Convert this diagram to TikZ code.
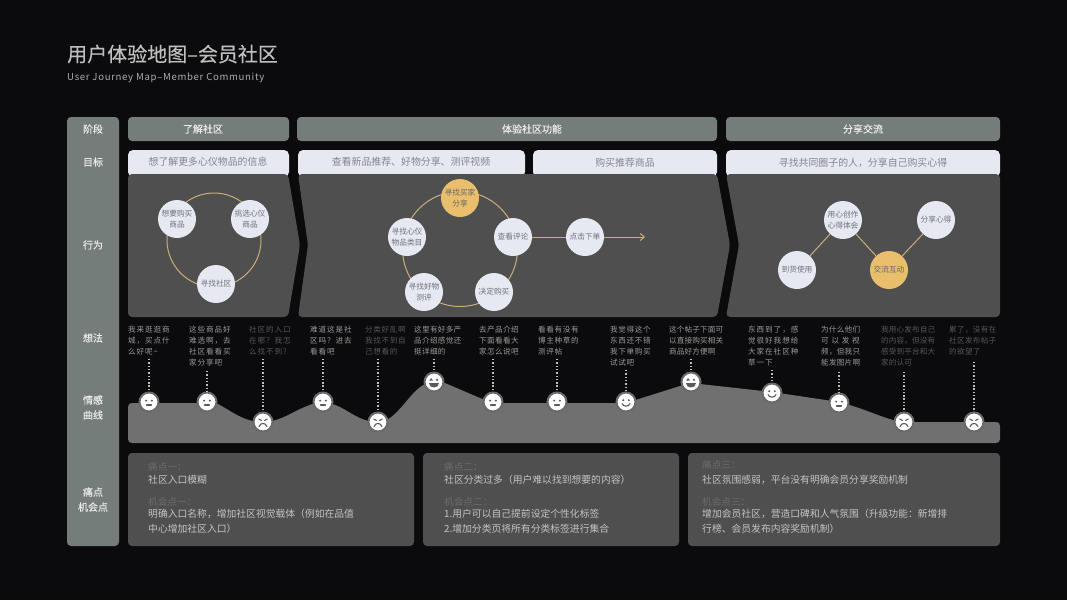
\documentclass[tikz,border=0pt]{standalone}
\usepackage{fontspec}
\usetikzlibrary{arrows.meta}
\setmainfont{Noto Sans CJK SC}
\definecolor{bgc}{HTML}{0B0B0D}
\definecolor{side}{HTML}{747D7A}
\definecolor{panel}{HTML}{4F4F4F}
\definecolor{goalc}{HTML}{E6E8F2}
\definecolor{goalt}{HTML}{85868C}
\definecolor{gold}{HTML}{E9BE6C}
\definecolor{ringc}{HTML}{C8B078}
\definecolor{areac}{HTML}{707070}
\definecolor{bright}{HTML}{9A9A9A}
\definecolor{dim}{HTML}{565656}
\definecolor{boxt}{HTML}{C4C4C4}
\definecolor{boxl}{HTML}{6C6C6C}
\definecolor{facer}{HTML}{6A6A6A}
\definecolor{facei}{HTML}{5A5A5A}
\tikzset{
  sidelabel/.style={inner sep=0pt,align=center,text=white!92!black,font=\fontsize{10}{15}\selectfont\addfontfeature{FakeBold=0.3}},
  stagebox/.style={fill=side,rounded corners=4pt,draw=none},
  stagetext/.style={inner sep=0pt,text=white!92!black,font=\fontsize{10}{12}\selectfont\addfontfeature{FakeBold=0.3}},
  goalbox/.style={fill=goalc,rounded corners=5pt,draw=none},
  goaltext/.style={inner sep=0pt,text=goalt,font=\fontsize{9.9}{12}\selectfont},
  panelshape/.style={fill=panel,rounded corners=4pt,draw=none},
  act/.style={circle,fill=goalc,draw=none,minimum size=38pt,inner sep=0pt,align=center,text=goalt!85!black,font=\fontsize{7.7}{11}\selectfont},
  actgold/.style={act,fill=gold,text=black!60},
  link/.style={draw=ringc,line width=1pt},
  facen/.style={circle,fill=white,draw=facer,line width=2pt,minimum size=19pt,inner sep=0pt},
  dots/.style={draw=white!75!black,line width=1.2pt,dash pattern=on 1.4pt off 1.9pt},
  boxhead/.style={inner sep=0pt,anchor=west,text=boxl,font=\fontsize{9.6}{12}\selectfont},
  boxbody/.style={inner sep=0pt,anchor=west,text=boxt,font=\fontsize{9.8}{12}\selectfont},
  faceline/.style={draw=facei,line width=1.1pt,line cap=round},
}
\newcommand{\tht}[5]{\node[inner sep=0pt,anchor=north west,align=left,text=#4,font={\fontsize{7.6}{11}\selectfont\addfontfeature{LetterSpace=#3}}] (#1) at (#2,325.5) {#5};}
\newcommand{\fneutral}{\fill[facei] (-2.8,-1.4) circle (1.1pt) (2.8,-1.4) circle (1.1pt); \draw[faceline] (-2.4,3) -- (2.4,3);}
\newcommand{\fsmile}{\fill[facei] (-2.8,-1.8) circle (1.1pt) (2.8,-1.8) circle (1.1pt); \draw[faceline] (-4,1.6) .. controls (-2.5,5) and (2.5,5) .. (4,1.6);}
\newcommand{\flaugh}{\draw[faceline] (-4,-1.6) -- (-3,-3) -- (-1.8,-1.6); \fill[facei] (3,-2.2) circle (1.2pt); \fill[facei] (-5,0.6) -- (5,0.6) .. controls (5,7) and (-5,7) .. (-5,0.6) -- cycle;}
\newcommand{\fsad}{\draw[faceline] (-4.2,-3) -- (-1.6,-1.6); \draw[faceline] (4.2,-3) -- (1.6,-1.6); \draw[faceline] (-4,4.6) .. controls (-2.5,0.4) and (2.5,0.4) .. (4,4.6);}
\newcommand{\fc}[5]{\coordinate (d#1) at (#2,#5); \node[facen] (f#1) at (#2,#3) {}; \draw[dots] (d#1) -- (f#1); \begin{scope}[shift={(f#1.center)}]#4\end{scope}}
\begin{document}
\begin{tikzpicture}[x=1pt,y=-1pt]
\useasboundingbox (0,0) rectangle (1067,600);
\fill[bgc] (0,0) rectangle (1067,600);
% title
\node[inner sep=0pt,anchor=west,text=white!75!black,font=\fontsize{20}{22}\selectfont\addfontfeature{FakeBold=0.3}] (title) at (67,54) {用户体验地图–会员社区};
\node[inner sep=0pt,anchor=west,text=white!68!black,font=\fontsize{9.6}{12}\selectfont\addfontfeature{LetterSpace=7}] (subtitle) at (67,78) {User Journey Map–Member Community};
% left column
\fill[stagebox] (67,117) rectangle (119,546);
\node[sidelabel] (l1) at (93,129) {阶段};
\node[sidelabel] (l2) at (93,162) {目标};
\node[sidelabel] (l3) at (93,245) {行为};
\node[sidelabel] (l4) at (93,338) {想法};
\node[sidelabel] (l5) at (93,407.5) {情感\\曲线};
\node[sidelabel] (l6) at (93,499.5) {痛点\\机会点};
% stages
\fill[stagebox] (128,117) rectangle (289,141);
\fill[stagebox] (297,117) rectangle (717,141);
\fill[stagebox] (726,117) rectangle (1000,141);
\node[stagetext] (s1) at (203,129) {了解社区};
\node[stagetext] (s2) at (532,129) {体验社区功能};
\node[stagetext] (s3) at (863,129) {分享交流};
% goals
\fill[goalbox] (128,150) rectangle (289,177);
\fill[goalbox] (298,150) rectangle (525,177);
\fill[goalbox] (533,150) rectangle (717,177);
\fill[goalbox] (726,150) rectangle (1000,177);
\node[goaltext] (g1) at (208,161.5) {想了解更多心仪物品的信息};
\node[goaltext] (g2) at (411,161.5) {查看新品推荐、好物分享、测评视频};
\node[goaltext] (g3) at (625,163) {购买推荐商品};
\node[goaltext] (g4) at (863,163) {寻找共同圈子的人，分享自己购买心得};
% action panels
\fill[panelshape] (128,174) -- (288,174) -- (300,245) -- (288,317) -- (128,317) -- cycle;
\fill[panelshape] (298,174) -- (717,174) -- (730,245) -- (717,317) -- (298,317) -- (308,245) -- cycle;
\fill[panelshape] (726,174) -- (1000,174) -- (1000,317) -- (726,317) -- (739,245) -- cycle;
% group 1
\coordinate (r1) at (214,240);
\draw[link] (r1) circle (47pt);
\node[act] (a1) at (177,219) {想要购买\\商品};
\node[act] (a2) at (250,219) {挑选心仪\\商品};
\node[act] (a3) at (216,284) {寻找社区};
% group 2
\coordinate (r2) at (460,249);
\draw[link] (r2) circle (57.5pt);
\node[actgold] (b1) at (460,198) {寻找买家\\分享};
\node[act] (b2) at (513,237) {查看评论};
\node[act] (b3) at (494,292) {决定购买};
\node[act] (b4) at (424,292) {寻找好物\\测评};
\node[act] (b5) at (407,237) {寻找心仪\\物品类目};
\node[act] (b6) at (585,237) {点击下单};
\coordinate (bend) at (645,237);
\draw[link] (b2) -- (b6);
\draw[link,-{Straight Barb[length=4pt,width=7pt]}] (b6) -- (bend);
% group 3
\node[act] (c1) at (797,270) {到货使用};
\node[act] (c2) at (843,220) {用心创作\\心得体会};
\node[actgold] (c3) at (889,270) {交流互动};
\node[act] (c4) at (936,220) {分享心得};
\draw[link] (c1) -- (c2);
\draw[link] (c2) -- (c3);
\draw[link] (c3) -- (c4);
% thoughts
\tht{t1}{128}{12}{bright}{我来逛逛商\\城，买点什\\么好呢\char"7E}
\tht{t2}{189}{12}{bright}{这些商品好\\难选啊，去\\社区看看买\\家分享吧}
\tht{t3}{249}{12}{dim}{社区的入口\\在哪？我怎\\么找不到?}
\tht{t4}{310}{12}{bright}{难道这是社\\区吗？进去\\看看吧}
\tht{t5}{365}{8}{dim}{分类好乱啊\\我找不到自\\己想看的}
\tht{t6}{414}{4}{bright}{这里有好多产\\品介绍感觉还\\挺详细的}
\tht{t7}{479}{5}{bright}{去产品介绍\\下面看看大\\家怎么说吧}
\tht{t8}{538}{8}{bright}{看看有没有\\博主种草的\\测评帖}
\tht{t9}{610}{8}{bright}{我觉得这个\\东西还不错\\我下单购买\\试试吧}
\tht{t10}{669}{2}{bright}{这个帖子下面可\\以直接购买相关\\商品好方便啊}
\tht{t11}{748}{12}{bright}{东西到了，感\\觉很好我想给\\大家在社区种\\草一下}
\tht{t12}{821}{3}{bright}{为什么他们\\\makebox[38.5pt][s]{可\hfill 以\hfill 发\hfill 视}\\频，但我只\\能发图片啊}
\tht{t13}{881}{2}{dim}{我用心发布自己\\的内容，但没有\\感受到平台和大\\家的认可}
\tht{t14}{949}{4}{dim}{累了，没有在\\社区发布帖子\\的欲望了}
% area
\fill[areac] (132,403) -- (216,403)
  .. controls (232,411) and (243,422) .. (263,422)
  .. controls (285,422) and (300,404) .. (323,402)
  .. controls (345,404) and (355,422) .. (378,422)
  .. controls (398,422) and (410,388) .. (428,383)
  -- (445,383) -- (480,398) -- (493,403) -- (626,403) -- (680,386) -- (700,384)
  -- (772,392) -- (839,402) .. controls (870,410) and (885,420) .. (904,422)
  -- (996,422) .. controls (998.5,422) and (1000,423.5) .. (1000,426)
  -- (1000,439) .. controls (1000,441.5) and (998.5,443) .. (996,443)
  -- (132,443) .. controls (129.5,443) and (128,441.5) .. (128,439)
  -- (128,407) .. controls (128,404.5) and (129.5,403) .. (132,403) -- cycle;
% faces
\fc{1}{149}{402}{\fneutral}{359}
\fc{2}{207}{402}{\fneutral}{371}
\fc{3}{263}{422}{\fsad}{359}
\fc{4}{323}{402}{\fneutral}{359}
\fc{5}{378}{422}{\fsad}{359}
\fc{6}{434}{382}{\flaugh}{359}
\fc{7}{493}{402}{\fneutral}{359}
\fc{8}{557}{402}{\fneutral}{359}
\fc{9}{626}{402}{\fsmile}{370}
\fc{10}{691}{382}{\flaugh}{359}
\fc{11}{772}{393}{\fsmile}{370}
\fc{12}{839}{403}{\fneutral}{372}
\fc{13}{904}{422}{\fsad}{372}
\fc{14}{974}{422}{\fsad}{362}
% pain boxes
\fill[panelshape] (128,453) rectangle (414,546);
\fill[panelshape] (423,453) rectangle (679,546);
\fill[panelshape] (688,453) rectangle (1000,546);
\node[boxhead] (h1) at (148,467) {痛点一：};
\node[boxbody] (p1) at (148,479.5) {社区入口模糊};
\node[boxhead] (h2) at (148,502) {机会点一：};
\node[boxbody,font=\fontsize{9.8}{15}\selectfont,align=left] (q1) at (148,521.5) {明确入口名称，增加社区视觉载体（例如在品值\\中心增加社区入口）};
\node[boxhead] (h3) at (444,467) {痛点二：};
\node[boxbody] (p2) at (444,479.5) {社区分类过多（用户难以找到想要的内容）};
\node[boxhead] (h4) at (444,502) {机会点二：};
\node[boxbody,font=\fontsize{9.8}{15}\selectfont,align=left] (q2) at (444,521.5) {1.用户可以自己提前设定个性化标签\\2.增加分类页将所有分类标签进行集合};
\node[boxhead] (h5) at (702,465) {痛点三：};
\node[boxbody] (p3) at (702,479.5) {社区氛围感弱，平台没有明确会员分享奖励机制};
\node[boxhead] (h6) at (702,502) {机会点三：};
\node[boxbody,font=\fontsize{9.8}{15}\selectfont,align=left] (q3) at (702,521.5) {增加会员社区，营造口碑和人气氛围（升级功能：新增排\\行榜、会员发布内容奖励机制）};
\end{tikzpicture}
\end{document}
